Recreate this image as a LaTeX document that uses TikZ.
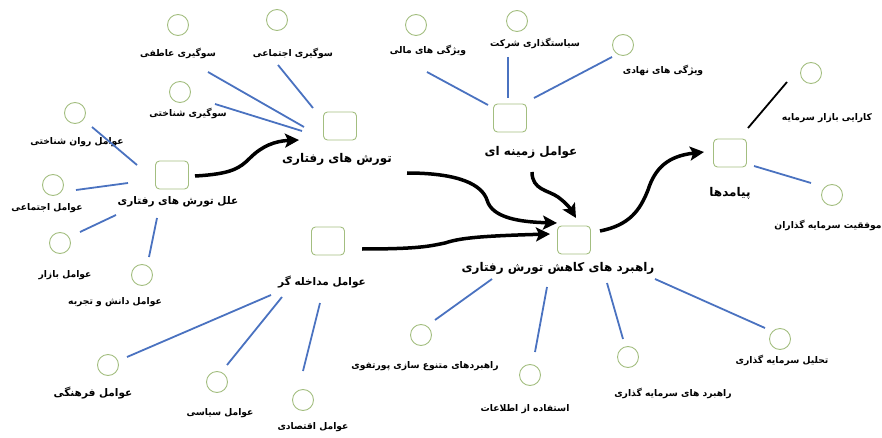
\documentclass[tikz,border=0pt]{standalone}
\usepackage{fontspec}
\usetikzlibrary{arrows.meta}
\TeXXeTstate=1
\newfontfamily\fa[Script=Arabic]{DejaVu Sans}
\newcommand{\rtl}[1]{\beginR #1\endR}
\definecolor{cgreen}{HTML}{A3BE80}
\definecolor{cblue}{HTML}{4A72C0}
\tikzset{
  circ/.style={draw=cgreen, line width=0.9pt, circle, minimum size=21pt, inner sep=0pt},
  sq/.style={draw=cgreen, line width=0.9pt, rounded corners=4pt, minimum width=33pt, minimum height=28pt, inner sep=0pt},
  lbl/.style={font=\fa\bfseries\fontsize{9.2}{11}\selectfont, inner sep=0pt},
  mlbl/.style={font=\fa\bfseries\fontsize{12}{14}\selectfont, inner sep=0pt},
  slbl/.style={font=\fa\bfseries\fontsize{10.5}{12}\selectfont, inner sep=0pt},
  bl/.style={draw=cblue, line width=1.8pt},
  blk/.style={draw=black, line width=1.8pt},
  thick arrow/.style={draw=black, line width=3.5pt, -{Stealth[length=14pt,width=14pt,inset=3pt]}},
}
\begin{document}
\begin{tikzpicture}[x=1pt,y=-1pt]
\useasboundingbox (0,0) rectangle (882,438);
% squares
\node[sq] (ellal) at (172,175) {};
\node[sq] (tav) at (340,126) {};
\node[sq] (zam) at (510,118) {};
\node[sq] (pay) at (730,153) {};
\node[sq] (rah) at (574,240) {};
\node[sq] (mod) at (328,241) {};
% circles
\node[circ] (c1) at (178,25) {};
\node[circ] (c2) at (277,20) {};
\node[circ] (c3) at (180,92) {};
\node[circ] (c4) at (75,113) {};
\node[circ] (c5) at (53,185) {};
\node[circ] (c6) at (60,243) {};
\node[circ] (c7) at (142,275) {};
\node[circ] (c8) at (108,365) {};
\node[circ] (c9) at (217,382) {};
\node[circ] (c10) at (303,400) {};
\node[circ] (c11) at (416,25) {};
\node[circ] (c12) at (517,21) {};
\node[circ] (c13) at (623,45) {};
\node[circ] (c14) at (811,73) {};
\node[circ] (c15) at (832,195) {};
\node[circ] (c16) at (421,335) {};
\node[circ] (c17) at (530,375) {};
\node[circ] (c18) at (628,357) {};
\node[circ] (c19) at (780,339) {};
% labels
\node[lbl] (t1) at (178,53) {\rtl{سوگیری عاطفی}};
\node[lbl] (t2) at (293,53) {\rtl{سوگیری اجتماعی}};
\node[lbl] (t3) at (188,113) {\rtl{سوگیری شناختی}};
\node[lbl] (t4) at (77,142) {\rtl{عوامل روان شناختی}};
\node[lbl] (t5) at (47,208) {\rtl{عوامل اجتماعی}};
\node[lbl] (t6) at (65,275) {\rtl{عوامل بازار}};
\node[lbl] (t7) at (115,302) {\rtl{عوامل دانش و تجربه}};
\node[slbl] (t8) at (93,393) {\rtl{عوامل فرهنگی}};
\node[lbl] (t9) at (220,413) {\rtl{عوامل سیاسی}};
\node[lbl] (t10) at (313,427) {\rtl{عوامل اقتصادی}};
\node[lbl] (t11) at (428,50) {\rtl{ویژگی های  مالی}};
\node[lbl] (t12) at (535,43) {\rtl{سیاستگذاری شرکت}};
\node[lbl] (t13) at (663,70) {\rtl{ویژگی های نهادی}};
\node[lbl] (t14) at (827,118) {\rtl{کارایی بازار سرمایه}};
\node[lbl] (t15) at (828,225) {\rtl{موفقیت سرمایه گذاران}};
\node[lbl] (t16) at (425,366) {\rtl{راهبردهای متنوع سازی پورتفوی}};
\node[lbl] (t17) at (525,409) {\rtl{استفاده از اطلاعات}};
\node[lbl] (t18) at (673,393) {\rtl{راهبرد های سرمایه گذاری}};
\node[lbl] (t19) at (782,360) {\rtl{تحلیل سرمایه گذاری}};
% main labels
\node[slbl] (m1) at (178,202) {\rtl{علل تورش های رفتاری}};
\node[mlbl] (m2) at (337,159) {\rtl{تورش های رفتاری}};
\node[mlbl] (m3) at (531,152) {\rtl{عوامل زمینه ای}};
\node[mlbl] (m4) at (730,193) {\rtl{پیامدها}};
\node[mlbl] (m5) at (558,268) {\rtl{راهبرد های کاهش تورش رفتاری}};
\node[slbl] (m6) at (322,282) {\rtl{عوامل مداخله گر}};
% line end coordinates
\coordinate (a1) at (208,72);  \coordinate (b1) at (304,127);
\coordinate (a2) at (278,65);  \coordinate (b2) at (313,108);
\coordinate (a3) at (215,104); \coordinate (b3) at (302,131);
\coordinate (a4) at (92,127);  \coordinate (b4) at (137,165);
\coordinate (a5) at (76,190);  \coordinate (b5) at (128,183);
\coordinate (a6) at (80,232);  \coordinate (b6) at (116,215);
\coordinate (a7) at (149,257); \coordinate (b7) at (157,218);
\coordinate (a8) at (127,357); \coordinate (b8) at (271,295);
\coordinate (a9) at (227,365); \coordinate (b9) at (282,297);
\coordinate (a10) at (303,371); \coordinate (b10) at (320,303);
\coordinate (a11) at (427,72); \coordinate (b11) at (488,105);
\coordinate (a12) at (508,57); \coordinate (b12) at (508,98);
\coordinate (a13) at (612,57); \coordinate (b13) at (534,98);
\coordinate (a14) at (787,82); \coordinate (b14) at (748,128);
\coordinate (a15) at (811,183); \coordinate (b15) at (754,166);
\coordinate (a16) at (435,320); \coordinate (b16) at (492,279);
\coordinate (a17) at (535,352); \coordinate (b17) at (547,287);
\coordinate (a18) at (623,339); \coordinate (b18) at (607,283);
\coordinate (a19) at (765,328); \coordinate (b19) at (655,279);
% blue lines
\foreach \i in {1,...,13,15,16,17,18,19} {\draw[bl] (a\i) -- (b\i);}
\draw[blk] (a14) -- (b14);
% thick arrows
\coordinate (s1) at (195,176); \coordinate (e1) at (299,140);
\draw[thick arrow] (s1) .. controls (232,174) and (240,168) .. (250,158) .. controls (262,146) and (275,141) .. (e1);
\coordinate (s2) at (407,173); \coordinate (e2) at (557,223);
\draw[thick arrow] (s2) .. controls (460,173) and (482,185) .. (487,200) .. controls (492,218) and (520,222) .. (e2);
\coordinate (s3) at (532,172); \coordinate (e3) at (576,218);
\draw[thick arrow] (s3) .. controls (532,190) and (548,190) .. (558,197) .. controls (566,203) and (570,208) .. (e3);
\coordinate (s4) at (362,249); \coordinate (e4) at (550,234);
\draw[thick arrow] (s4) .. controls (420,249) and (430,246) .. (445,243) .. controls (460,238) and (480,236) .. (e4);
\coordinate (s5) at (600,231); \coordinate (e5) at (704,152);
\draw[thick arrow] (s5) .. controls (630,225) and (640,210) .. (648,190) .. controls (655,168) and (668,156) .. (e5);
\end{tikzpicture}
\end{document}
